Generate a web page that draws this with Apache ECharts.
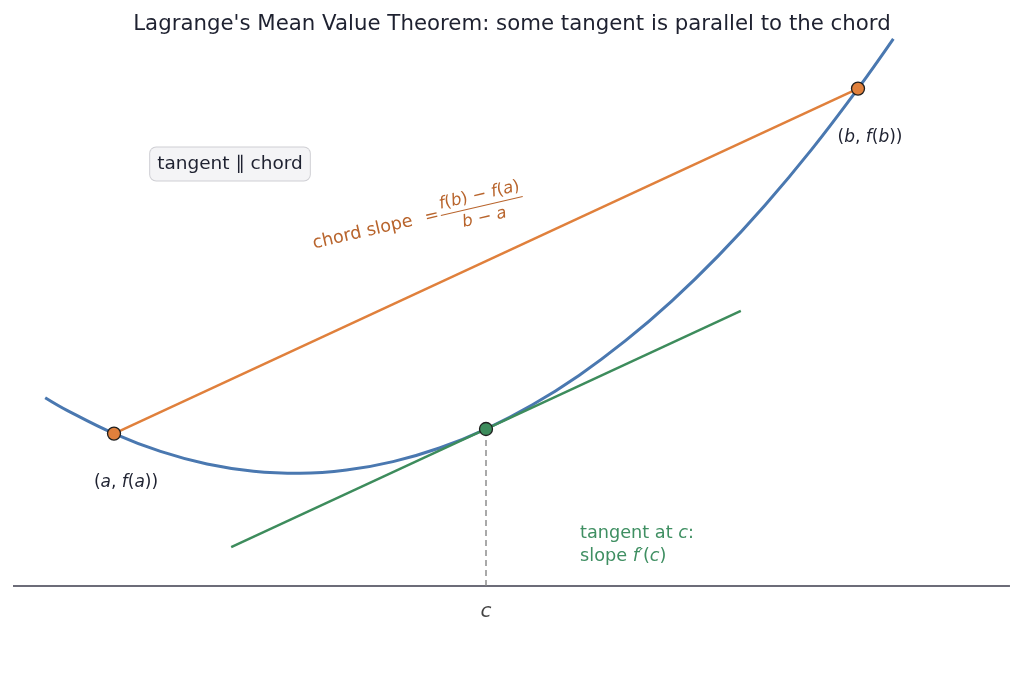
<!DOCTYPE html>
<html>
<head>
<meta charset="utf-8">
<script src="https://cdn.jsdelivr.net/npm/echarts@6/dist/echarts.min.js"></script>
<style>
  html, body { margin: 0; padding: 0; background: #fff; }
  #mvt-chart { width: 1024px; height: 683px; }
</style>
</head>
<body>
<div id="mvt-chart"></div>
<script>
// curve f(x)
var curveX = [0.63, 0.75, 1.0, 1.25, 1.5, 1.75, 2.0, 2.25, 2.5, 2.75, 3.0, 3.25, 3.5, 3.75, 4.0, 4.25, 4.5, 4.75, 5.0, 5.19];
var curveY = [1.883, 1.754, 1.524, 1.346, 1.220, 1.148, 1.127, 1.159, 1.244, 1.380, 1.570, 1.812, 2.106, 2.453, 2.852, 3.304, 3.808, 4.364, 4.974, 5.472];

// a, c, b and their values
var pointNames = ['a', 'c', 'b'];
var pointX = [1.0, 3.0, 5.0];
var pointY = [1.524, 1.570, 4.974];

// tangent segment at c
var tangentX = [1.63, 4.37];
var tangentY = [0.388, 2.752];

// horizontal axis line
var axisX = [0.457, 5.817];

var FONT = 'DejaVu Sans';
var BLUE = '#4a78b0';
var ORANGE = '#e0803c';
var GREEN = '#3d8c5c';
var ORANGE_TEXT = '#b8642c';
var GREEN_TEXT = '#3f8f62';
var INK = '#1e2130';

function zip(xs, ys) {
    return xs.map(function (x, i) { return [x, ys[i]]; });
}

var mathRich = {
    n: { fontFamily: FONT, fontSize: 17, color: INK },
    i: { fontFamily: FONT, fontSize: 17, color: INK, fontStyle: 'italic' }
};

var chartDom = document.getElementById('mvt-chart');
var mvtChart = echarts.init(chartDom);
var option;

option = {
    animation: false,
    backgroundColor: '#ffffff',
    title: {
        text: "Lagrange's Mean Value Theorem: some tangent is parallel to the chord",
        left: 'center',
        top: 9,
        textStyle: { fontFamily: FONT, fontSize: 21.3, fontWeight: 'normal', color: INK }
    },
    grid: { left: 2.4, width: 1013.7, top: 36, height: 630 },
    xAxis: { type: 'value', min: 0.4, max: 5.85, show: false },
    yAxis: { type: 'value', min: -0.8, max: 5.5, show: false },
    series: [
        {
            // x axis drawn as a plain line
            type: 'line',
            data: zip(axisX, [0, 0]),
            showSymbol: false,
            lineStyle: { color: '#3b3b4b', width: 1.7 },
            z: 1
        },
        {
            type: 'line',
            data: [[pointX[1], 0], [pointX[1], pointY[1]]],
            showSymbol: false,
            lineStyle: { color: '#858585', width: 1.4, type: [6, 4] },
            z: 1
        },
        {
            type: 'line',
            data: zip(curveX, curveY),
            smooth: 0.4,
            showSymbol: false,
            lineStyle: { color: BLUE, width: 3 },
            z: 2
        },
        {
            type: 'line',
            data: [[pointX[0], pointY[0]], [pointX[2], pointY[2]]],
            showSymbol: false,
            lineStyle: { color: ORANGE, width: 2.5 },
            z: 3
        },
        {
            type: 'line',
            data: zip(tangentX, tangentY),
            showSymbol: false,
            lineStyle: { color: GREEN, width: 2.4 },
            z: 3
        },
        {
            type: 'scatter',
            symbolSize: 13,
            z: 5,
            data: pointNames.map(function (n, i) {
                var isC = n === 'c';
                return {
                    value: [pointX[i], pointY[i]],
                    itemStyle: {
                        color: isC ? GREEN : ORANGE,
                        borderColor: '#1f1f1f',
                        borderWidth: 1.3,
                        opacity: 1
                    },
                    label: isC ? { show: false } : {
                        show: true,
                        position: 'bottom',
                        offset: [12, 28],
                        formatter: '{n|(}{i|' + n + '}{n|, }{i|f}{n|(}{i|' + n + '}{n|))}',
                        rich: mathRich
                    }
                };
            })
        },
        {
            // label "c" under the axis
            type: 'scatter',
            symbolSize: 0,
            data: [[pointX[1], 0]],
            label: {
                show: true,
                position: 'bottom',
                offset: [0, 11],
                formatter: 'c',
                fontFamily: FONT,
                fontSize: 20,
                fontStyle: 'italic',
                color: '#111111'
            }
        }
    ],
    graphic: [
        {
            type: 'text',
            x: 230,
            y: 164,
            style: {
                text: 'tangent \u2225 chord',
                fontFamily: FONT,
                fontSize: 18.5,
                fill: INK,
                align: 'center',
                verticalAlign: 'middle',
                backgroundColor: '#f4f4f6',
                borderColor: '#cfcfd4',
                borderWidth: 1,
                borderRadius: 6,
                padding: [7, 7]
            }
        },
        {
            type: 'text',
            x: 580,
            y: 522,
            style: {
                text: '{g|tangent at }{gi|c}{g|:}\n{g|slope }{gi|f\u2032}{g|(}{gi|c}{g|)}',
                rich: {
                    g: { fontFamily: FONT, fontSize: 17.7, fill: GREEN_TEXT, lineHeight: 23 },
                    gi: { fontFamily: FONT, fontSize: 17.7, fill: GREEN_TEXT, fontStyle: 'italic', lineHeight: 23 }
                },
                align: 'left',
                verticalAlign: 'top'
            }
        },
        {
            // rotated chord slope annotation with the fraction
            type: 'group',
            x: 313,
            y: 244,
            rotation: 13 * Math.PI / 180,
            children: [
                {
                    type: 'text',
                    x: 0, y: 0,
                    style: {
                        text: 'chord slope', fontFamily: FONT, fontSize: 17.6, fill: ORANGE_TEXT,
                        align: 'left', verticalAlign: 'middle'
                    }
                },
                {
                    type: 'text',
                    x: 122, y: 0,
                    style: {
                        text: '=', fontFamily: FONT, fontSize: 17, fill: ORANGE_TEXT,
                        align: 'center', verticalAlign: 'middle'
                    }
                },
                {
                    type: 'line',
                    shape: { x1: 131, y1: 1, x2: 215, y2: 1 },
                    style: { stroke: ORANGE_TEXT, lineWidth: 1 }
                },
                {
                    type: 'text',
                    x: 173, y: -10,
                    style: {
                        text: '{i|f}{n|(}{i|b}{n|) \u2212 }{i|f}{n|(}{i|a}{n|)}',
                        rich: {
                            n: { fontFamily: FONT, fontSize: 16.5, fill: ORANGE_TEXT },
                            i: { fontFamily: FONT, fontSize: 16.5, fill: ORANGE_TEXT, fontStyle: 'italic' }
                        },
                        align: 'center', verticalAlign: 'middle'
                    }
                },
                {
                    type: 'text',
                    x: 173, y: 13,
                    style: {
                        text: '{i|b}{n| \u2212 }{i|a}',
                        rich: {
                            n: { fontFamily: FONT, fontSize: 16.5, fill: ORANGE_TEXT },
                            i: { fontFamily: FONT, fontSize: 16.5, fill: ORANGE_TEXT, fontStyle: 'italic' }
                        },
                        align: 'center', verticalAlign: 'middle'
                    }
                }
            ]
        }
    ]
};

option && mvtChart.setOption(option);

window.addEventListener('resize', () => {
    mvtChart.resize();
});
</script>
</body>
</html>
